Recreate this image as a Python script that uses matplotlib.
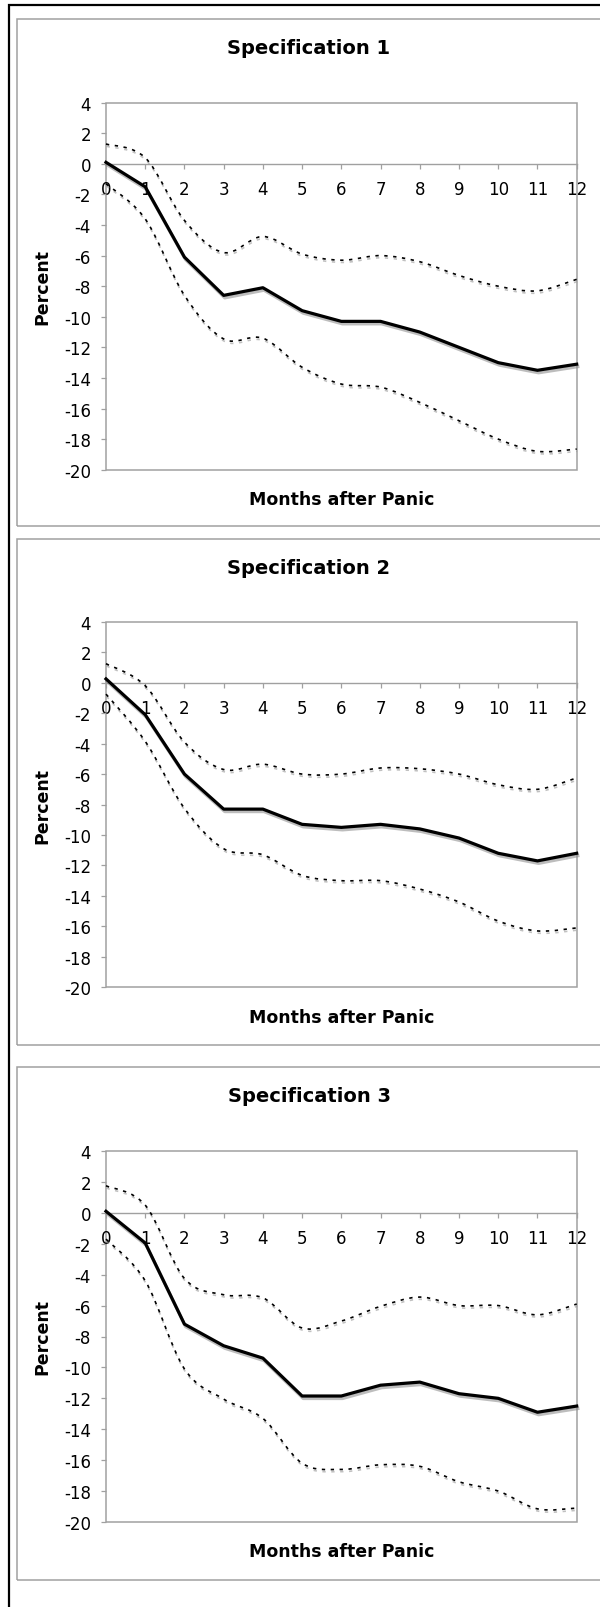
import matplotlib
matplotlib.use("Agg")
import matplotlib.pyplot as plt
import matplotlib.patheffects as pe
from matplotlib.path import Path
from matplotlib.patches import PathPatch, Rectangle

plt.rcParams["font.family"] = ["DejaVu Sans"]
plt.rcParams["lines.scale_dashes"] = False

# ---- data -------------------------------------------------------------
months = list(range(13))
month_labels = [str(m) for m in months]
y_ticks = list(range(-20, 5, 2))

titles = ["Specification 1", "Specification 2", "Specification 3"]
x_title = "Months after Panic"
y_title = "Percent"

spec1_est = [0.1, -1.5, -6.1, -8.6, -8.1, -9.6, -10.3, -10.3, -11.0, -12.0, -13.0, -13.5, -13.1]
spec1_upper = [1.3, 0.4, -3.7, -5.8, -4.75, -5.9, -6.3, -6.0, -6.4, -7.3, -8.0, -8.3, -7.55]
spec1_lower = [-1.3, -3.6, -8.6, -11.45, -11.4, -13.3, -14.4, -14.6, -15.6, -16.8, -18.0, -18.8, -18.65]

spec2_est = [0.25, -2.1, -6.0, -8.3, -8.3, -9.3, -9.5, -9.3, -9.6, -10.2, -11.2, -11.7, -11.2]
spec2_upper = [1.25, -0.2, -3.9, -5.7, -5.35, -6.0, -6.0, -5.6, -5.65, -6.0, -6.7, -7.0, -6.25]
spec2_lower = [-0.75, -3.85, -8.25, -10.9, -11.3, -12.65, -13.0, -13.0, -13.55, -14.4, -15.65, -16.3, -16.1]

spec3_est = [0.1, -1.95, -7.2, -8.6, -9.4, -11.85, -11.85, -11.15, -10.95, -11.7, -12.0, -12.9, -12.5]
spec3_upper = [1.75, 0.5, -4.25, -5.3, -5.5, -7.45, -7.0, -6.05, -5.45, -6.0, -6.0, -6.6, -5.9]
spec3_lower = [-1.7, -4.4, -10.1, -12.05, -13.3, -16.2, -16.6, -16.3, -16.4, -17.4, -18.0, -19.15, -19.1]

estimates = [spec1_est, spec2_est, spec3_est]
uppers = [spec1_upper, spec2_upper, spec3_upper]
lowers = [spec1_lower, spec2_lower, spec3_lower]

# ---- layout (pixel positions on a 600 x 1608 canvas) ------------------
W, H = 600, 1608
box_tops = [20.3, 540.0, 1068.3]
box_bottoms = [527.3, 1045.7, 1580.5]
plot_tops = [103.7, 622.8, 1152.0]
plot_bottoms = [470.7, 988.3, 1523.0]
plot_left, plot_right = 106.0, 576.7
box_left, box_right = 16.7, 603.0

FRAME = "#a0a0a0"


def fx(px):
    return px / W


def fy(py):
    return 1 - py / H


def smooth_path(xs, ys):
    """Cubic Bezier path through the points (Excel-style smoothed line)."""
    pts = list(zip(xs, ys))
    n = len(pts)
    verts = [pts[0]]
    codes = [Path.MOVETO]
    for i in range(n - 1):
        p0 = pts[i - 1] if i > 0 else pts[i]
        p1 = pts[i]
        p2 = pts[i + 1]
        p3 = pts[i + 2] if i + 2 < n else pts[i + 1]
        c1 = (p1[0] + (p2[0] - p0[0]) / 6, p1[1] + (p2[1] - p0[1]) / 6)
        c2 = (p2[0] - (p3[0] - p1[0]) / 6, p2[1] - (p3[1] - p1[1]) / 6)
        verts += [c1, c2, p2]
        codes += [Path.CURVE4] * 3
    return Path(verts, codes)


fig = plt.figure(figsize=(W / 100, H / 100), dpi=100)

# outer black frame
fig.add_artist(Rectangle((fx(9.3), fy(1650)), fx(700) - fx(9.3), fy(5.7) - fy(1650),
                         transform=fig.transFigure, fill=False, ec="black", lw=1.6))

shadow_main = [pe.SimpleLineShadow(offset=(0.8, -1.8), shadow_color="#888888", alpha=0.55, rho=1.0),
               pe.Normal()]
shadow_band = [pe.SimpleLineShadow(offset=(0.4, -1.6), shadow_color="#999999", alpha=0.6, rho=1.0),
               pe.Normal()]

for k in range(3):
    bt, bb = box_tops[k], box_bottoms[k]
    pt, pb = plot_tops[k], plot_bottoms[k]

    # chart area border
    fig.add_artist(Rectangle((fx(box_left), fy(bb)), fx(box_right) - fx(box_left), fy(bt) - fy(bb),
                             transform=fig.transFigure, fill=False, ec=FRAME, lw=1.1))

    ax = fig.add_axes([fx(plot_left), fy(pb), (plot_right - plot_left) / W, (pb - pt) / H])
    ax.set_xlim(0, 12)
    ax.set_ylim(-20, 4)
    for side in ["top", "right", "left"]:
        ax.spines[side].set_visible(False)
    ax.spines["bottom"].set_position(("data", 0))
    ax.spines["bottom"].set_color(FRAME)
    ax.spines["bottom"].set_linewidth(1.0)
    ax.add_patch(Rectangle((0, 0), 1, 1, transform=ax.transAxes, fill=False,
                           ec=FRAME, lw=1.1, clip_on=False, zorder=1))

    ax.set_xticks(months)
    ax.set_xticklabels(month_labels)
    ax.set_yticks(y_ticks)
    ax.set_yticklabels([str(v) for v in y_ticks])
    ax.tick_params(axis="both", direction="out", length=3.8, width=0.9, color=FRAME,
                   labelsize=12, labelcolor="black")
    ax.tick_params(axis="x", pad=8)
    ax.tick_params(axis="y", pad=7)

    for band in (uppers[k], lowers[k]):
        patch = PathPatch(smooth_path(months, band), fill=False, ec="black", lw=1.2,
                          linestyle=(0, (2.4, 4.0)), zorder=3, path_effects=shadow_band,
                          clip_on=False)
        ax.add_patch(patch)

    ax.plot(months, estimates[k], color="black", lw=2.3, zorder=4,
            solid_joinstyle="round", path_effects=shadow_main, clip_on=False)

    fig.text(fx(309), fy(bt + 28), titles[k], ha="center", va="center",
             fontsize=14, fontweight="bold")
    fig.text(fx((plot_left + plot_right) / 2), fy(pb + 29.5), x_title, ha="center", va="center",
             fontsize=12.5, fontweight="bold")
    fig.text(fx(42), fy((pt + pb) / 2), y_title, ha="center", va="center", rotation=90,
             fontsize=12.5, fontweight="bold")

fig.savefig("out.png", dpi=100)
